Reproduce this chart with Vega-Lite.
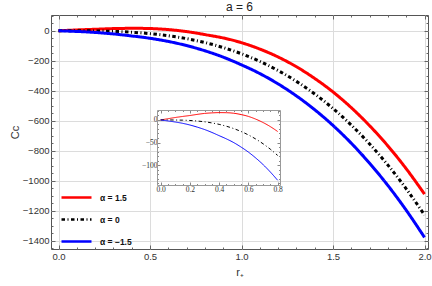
{
  "$schema": "https://vega.github.io/schema/vega-lite/v6.json",
  "width": 377,
  "height": 234,
  "autosize": {"type": "none"},
  "padding": {"left": 51, "top": 15, "right": 4, "bottom": 37},
  "background": "white",
  "title": {"text": "a = 6", "fontSize": 12, "font": "Liberation Sans", "fontWeight": "normal", "color": "#222", "offset": 1},
  "config": {
    "view": {"stroke": "#555", "strokeWidth": 1},
    "axis": {"labelFont": "Liberation Sans", "titleFont": "Liberation Sans", "labelColor": "#333", "titleColor": "#333", "tickColor": "#666", "gridColor": "#dcdcdc", "domain": false}
  },
  "datasets": {
    "curves": [
      {"r": 0, "C": 0, "s": "α = 1.5"}, {"r": 0.05, "C": 2.7, "s": "α = 1.5"}, {"r": 0.1, "C": 5.4, "s": "α = 1.5"}, {"r": 0.15, "C": 7.7, "s": "α = 1.5"}, {"r": 0.2, "C": 9.8, "s": "α = 1.5"}, {"r": 0.25, "C": 12.3, "s": "α = 1.5"}, {"r": 0.3, "C": 14.4, "s": "α = 1.5"}, {"r": 0.35, "C": 15.6, "s": "α = 1.5"}, {"r": 0.4, "C": 16.2, "s": "α = 1.5"}, {"r": 0.45, "C": 16.0, "s": "α = 1.5"}, {"r": 0.5, "C": 14.8, "s": "α = 1.5"}, {"r": 0.55, "C": 11.9, "s": "α = 1.5"}, {"r": 0.6, "C": 7.8, "s": "α = 1.5"}, {"r": 0.65, "C": 1.8, "s": "α = 1.5"}, {"r": 0.7, "C": -5.7, "s": "α = 1.5"}, {"r": 0.75, "C": -14.8, "s": "α = 1.5"}, {"r": 0.8, "C": -25.6, "s": "α = 1.5"}, {"r": 0.9, "C": -48, "s": "α = 1.5"}, {"r": 1.0, "C": -79.6, "s": "α = 1.5"}, {"r": 1.1, "C": -122, "s": "α = 1.5"}, {"r": 1.2, "C": -175, "s": "α = 1.5"}, {"r": 1.3, "C": -240, "s": "α = 1.5"}, {"r": 1.4, "C": -318, "s": "α = 1.5"}, {"r": 1.5, "C": -408, "s": "α = 1.5"}, {"r": 1.6, "C": -513, "s": "α = 1.5"}, {"r": 1.7, "C": -633, "s": "α = 1.5"}, {"r": 1.8, "C": -768, "s": "α = 1.5"}, {"r": 1.9, "C": -920, "s": "α = 1.5"}, {"r": 2.0, "C": -1089, "s": "α = 1.5"},
      {"r": 0, "C": 0, "s": "α = 0"}, {"r": 0.05, "C": 0, "s": "α = 0"}, {"r": 0.1, "C": -0.2, "s": "α = 0"}, {"r": 0.15, "C": -0.5, "s": "α = 0"}, {"r": 0.2, "C": -1.2, "s": "α = 0"}, {"r": 0.25, "C": -2.4, "s": "α = 0"}, {"r": 0.3, "C": -4.1, "s": "α = 0"}, {"r": 0.35, "C": -6.6, "s": "α = 0"}, {"r": 0.4, "C": -9.8, "s": "α = 0"}, {"r": 0.45, "C": -14.0, "s": "α = 0"}, {"r": 0.5, "C": -19.2, "s": "α = 0"}, {"r": 0.55, "C": -25.6, "s": "α = 0"}, {"r": 0.6, "C": -33.2, "s": "α = 0"}, {"r": 0.65, "C": -42.2, "s": "α = 0"}, {"r": 0.7, "C": -52.7, "s": "α = 0"}, {"r": 0.75, "C": -64.8, "s": "α = 0"}, {"r": 0.8, "C": -78.6, "s": "α = 0"}, {"r": 0.9, "C": -112, "s": "α = 0"}, {"r": 1.0, "C": -153.6, "s": "α = 0"}, {"r": 1.1, "C": -204.4, "s": "α = 0"}, {"r": 1.2, "C": -265.4, "s": "α = 0"}, {"r": 1.3, "C": -337.5, "s": "α = 0"}, {"r": 1.4, "C": -421.5, "s": "α = 0"}, {"r": 1.5, "C": -518.4, "s": "α = 0"}, {"r": 1.6, "C": -629.1, "s": "α = 0"}, {"r": 1.7, "C": -754.6, "s": "α = 0"}, {"r": 1.8, "C": -895.8, "s": "α = 0"}, {"r": 1.9, "C": -1053.5, "s": "α = 0"}, {"r": 2.0, "C": -1228.8, "s": "α = 0"},
      {"r": 0, "C": 0, "s": "α = −1.5"}, {"r": 0.05, "C": -2.2, "s": "α = −1.5"}, {"r": 0.1, "C": -4.6, "s": "α = −1.5"}, {"r": 0.15, "C": -7.5, "s": "α = −1.5"}, {"r": 0.2, "C": -11.2, "s": "α = −1.5"}, {"r": 0.25, "C": -15.9, "s": "α = −1.5"}, {"r": 0.3, "C": -21.2, "s": "α = −1.5"}, {"r": 0.35, "C": -27.6, "s": "α = −1.5"}, {"r": 0.4, "C": -34.8, "s": "α = −1.5"}, {"r": 0.45, "C": -42.0, "s": "α = −1.5"}, {"r": 0.5, "C": -50.2, "s": "α = −1.5"}, {"r": 0.55, "C": -60.1, "s": "α = −1.5"}, {"r": 0.6, "C": -71.2, "s": "α = −1.5"}, {"r": 0.65, "C": -84.2, "s": "α = −1.5"}, {"r": 0.7, "C": -98.7, "s": "α = −1.5"}, {"r": 0.75, "C": -115.3, "s": "α = −1.5"}, {"r": 0.8, "C": -133.6, "s": "α = −1.5"}, {"r": 0.9, "C": -176, "s": "α = −1.5"}, {"r": 1.0, "C": -227.6, "s": "α = −1.5"}, {"r": 1.1, "C": -285.4, "s": "α = −1.5"}, {"r": 1.2, "C": -354.4, "s": "α = −1.5"}, {"r": 1.3, "C": -434.5, "s": "α = −1.5"}, {"r": 1.4, "C": -526.5, "s": "α = −1.5"}, {"r": 1.5, "C": -631.4, "s": "α = −1.5"}, {"r": 1.6, "C": -750, "s": "α = −1.5"}, {"r": 1.7, "C": -883.6, "s": "α = −1.5"}, {"r": 1.8, "C": -1031.8, "s": "α = −1.5"}, {"r": 1.9, "C": -1196.5, "s": "α = −1.5"}, {"r": 2.0, "C": -1377.8, "s": "α = −1.5"}
    ]
  },
  "data": {"name": "curves"},
  "resolve": {"scale": {"x": "independent", "y": "independent"}},
  "layer": [
    {
      "mark": {"type": "line", "strokeWidth": 3, "interpolate": "monotone"},
      "encoding": {
        "x": {"field": "r", "type": "quantitative",
          "scale": {"domain": [-0.041, 2.019], "nice": false, "zero": false},
          "axis": {"orient": "bottom", "title": "r₊", "titleFontSize": 11, "titleFontWeight": "normal", "titlePadding": 6,
            "values": [0,0.1,0.2,0.3,0.4,0.5,0.6,0.7,0.8,0.9,1,1.1,1.2,1.3,1.4,1.5,1.6,1.7,1.8,1.9,2],
            "labelExpr": "abs(datum.value*2 - round(datum.value*2)) < 0.001 ? format(datum.value, '.1f') : ''",
            "labelFontSize": 9.5, "labelPadding": 6, "labelFlush": false,
            "tickSize": {"condition": {"test": "abs(datum.value*2 - round(datum.value*2)) < 0.001", "value": -4}, "value": -2},
            "gridOpacity": {"condition": {"test": "abs(datum.value*2 - round(datum.value*2)) < 0.001", "value": 1}, "value": 0}}},
        "y": {"field": "C", "type": "quantitative",
          "scale": {"domain": [-1455, 105], "nice": false, "zero": false},
          "axis": {"orient": "left", "title": "Cc", "titleFontSize": 11, "titleFontWeight": "normal", "titlePadding": 2,
            "values": [-1450,-1400,-1350,-1300,-1250,-1200,-1150,-1100,-1050,-1000,-950,-900,-850,-800,-750,-700,-650,-600,-550,-500,-450,-400,-350,-300,-250,-200,-150,-100,-50,0,50,100],
            "labelExpr": "abs(datum.value % 200) < 0.001 ? format(datum.value, 'd') : ''",
            "labelFontSize": 9.5, "labelPadding": 6, "labelFlush": false,
            "tickSize": {"condition": {"test": "abs(datum.value % 200) < 0.001", "value": -4}, "value": -2},
            "gridOpacity": {"condition": {"test": "abs(datum.value % 200) < 0.001", "value": 1}, "value": 0}}},
        "color": {"field": "s", "type": "nominal",
          "scale": {"domain": ["α = 1.5", "α = 0", "α = −1.5"], "range": ["#ff0000", "#000000", "#0000ff"]},
          "legend": {"orient": "none", "legendX": 9, "legendY": 166, "title": null, "symbolType": "stroke", "symbolSize": 900, "symbolStrokeWidth": 2.5, "labelFont": "Liberation Sans", "labelFontWeight": "bold", "labelFontSize": 8.5, "labelColor": "#111", "labelOffset": 7, "rowPadding": -11, "padding": 0}},
        "strokeDash": {"field": "s", "type": "nominal",
          "scale": {"domain": ["α = 1.5", "α = 0", "α = −1.5"], "range": [[1, 0], [3.5, 2.5, 1, 2.5], [1, 0]]},
          "legend": {"orient": "none", "legendX": 9, "legendY": 166, "title": null, "symbolType": "stroke", "symbolSize": 900, "symbolStrokeWidth": 2.5, "labelFont": "Liberation Sans", "labelFontWeight": "bold", "labelFontSize": 8.5, "labelColor": "#111", "labelOffset": 7, "rowPadding": -11, "padding": 0}}
      }
    },
    {
      "mark": {"type": "line", "opacity": 0},
      "encoding": {
        "detail": {"field": "s"},
        "x": {"field": "r", "type": "quantitative",
          "scale": {"domain": [-0.041, 2.019], "nice": false, "zero": false},
          "axis": {"orient": "top", "title": null, "labels": false, "grid": false,
            "values": [0,0.1,0.2,0.3,0.4,0.5,0.6,0.7,0.8,0.9,1,1.1,1.2,1.3,1.4,1.5,1.6,1.7,1.8,1.9,2],
            "tickSize": {"condition": {"test": "abs(datum.value*2 - round(datum.value*2)) < 0.001", "value": -4}, "value": -2}}},
        "y": {"field": "C", "type": "quantitative",
          "scale": {"domain": [-1455, 105], "nice": false, "zero": false},
          "axis": {"orient": "right", "title": null, "labels": false, "grid": false,
            "values": [-1450,-1400,-1350,-1300,-1250,-1200,-1150,-1100,-1050,-1000,-950,-900,-850,-800,-750,-700,-650,-600,-550,-500,-450,-400,-350,-300,-250,-200,-150,-100,-50,0,50,100],
            "tickSize": {"condition": {"test": "abs(datum.value % 200) < 0.001", "value": -4}, "value": -2}}}
      }
    },
    {
      "transform": [{"filter": "datum.r <= 0.8001"}],
      "mark": {"type": "line", "strokeWidth": 1, "interpolate": "monotone"},
      "encoding": {
        "x": {"field": "r", "type": "quantitative",
          "scale": {"domain": [-0.025, 0.816], "range": [106, 229], "nice": false, "zero": false},
          "axis": {"orient": "bottom", "offset": -64, "title": null, "grid": false, "domain": true, "domainColor": "#999",
            "values": [0,0.05,0.1,0.15,0.2,0.25,0.3,0.35,0.4,0.45,0.5,0.55,0.6,0.65,0.7,0.75,0.8],
            "labelExpr": "abs(datum.value*5 - round(datum.value*5)) < 0.001 ? format(datum.value, '.1f') : ''",
            "labelFont": "Liberation Serif", "labelFontSize": 7.5, "labelColor": "#333", "labelPadding": 3, "labelFlush": false, "tickColor": "#888",
            "tickSize": {"condition": {"test": "abs(datum.value*5 - round(datum.value*5)) < 0.001", "value": -3}, "value": -1.5}}},
        "y": {"field": "C", "type": "quantitative",
          "scale": {"domain": [-144, 22], "range": [170, 95], "nice": false, "zero": false},
          "axis": {"orient": "left", "offset": -106, "title": null, "grid": false, "domain": true, "domainColor": "#999",
            "values": [-140,-130,-120,-110,-100,-90,-80,-70,-60,-50,-40,-30,-20,-10,0,10,20],
            "labelExpr": "abs(datum.value % 50) < 0.001 ? format(datum.value, 'd') : ''",
            "labelFont": "Liberation Serif", "labelFontSize": 7.5, "labelColor": "#333", "labelPadding": 3, "labelFlush": false, "tickColor": "#888",
            "tickSize": {"condition": {"test": "abs(datum.value % 50) < 0.001", "value": -3}, "value": -1.5}}},
        "color": {"field": "s", "type": "nominal"},
        "strokeDash": {"field": "s", "type": "nominal"}
      }
    },
    {
      "transform": [{"filter": "datum.r <= 0.8001"}],
      "mark": {"type": "line", "opacity": 0},
      "encoding": {
        "detail": {"field": "s"},
        "x": {"field": "r", "type": "quantitative",
          "scale": {"domain": [-0.025, 0.816], "range": [106, 229], "nice": false, "zero": false},
          "axis": {"orient": "top", "offset": -95, "title": null, "grid": false, "labels": false, "domain": true, "domainColor": "#999", "tickColor": "#888",
            "values": [0,0.05,0.1,0.15,0.2,0.25,0.3,0.35,0.4,0.45,0.5,0.55,0.6,0.65,0.7,0.75,0.8],
            "tickSize": {"condition": {"test": "abs(datum.value*5 - round(datum.value*5)) < 0.001", "value": -3}, "value": -1.5}}},
        "y": {"field": "C", "type": "quantitative",
          "scale": {"domain": [-144, 22], "range": [170, 95], "nice": false, "zero": false},
          "axis": {"orient": "right", "offset": -148, "title": null, "grid": false, "labels": false, "domain": true, "domainColor": "#999", "tickColor": "#888",
            "values": [-140,-130,-120,-110,-100,-90,-80,-70,-60,-50,-40,-30,-20,-10,0,10,20],
            "tickSize": {"condition": {"test": "abs(datum.value % 50) < 0.001", "value": -3}, "value": -1.5}}}
      }
    }
  ]
}
